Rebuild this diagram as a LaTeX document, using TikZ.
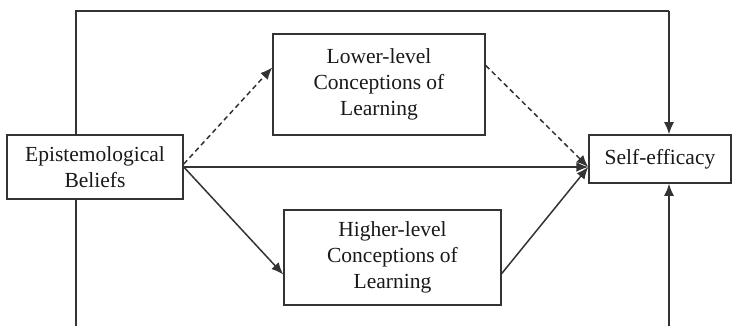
\documentclass[tikz,border=0pt]{standalone}
\usepackage{fontspec}
\setmainfont{Liberation Serif}
\usetikzlibrary{arrows.meta}
\begin{document}
\begin{tikzpicture}[x=1pt,y=-1pt,
  box/.style={draw=black!80,line width=1.5pt,fill=white,align=center,inner sep=0pt,
    font=\fontsize{21.5}{26}\selectfont,text=black!90},
  conn/.style={draw=black!80,line width=1.5pt},
  arr/.style={conn,-{Latex[length=12pt,width=10pt]}},
  darr/.style={arr,dash pattern=on 5pt off 3.5pt}]
\useasboundingbox (0,0) rectangle (733,326);
\node[box,minimum width=176pt,minimum height=64pt] (epi) at (95,167) {Epistemological\\Beliefs};
\node[box,minimum width=212pt,minimum height=101pt] (low) at (379,84.5) {Lower-level\\Conceptions of\\Learning};
\node[box,minimum width=217pt,minimum height=95pt] (high) at (392.5,257.5) {Higher-level\\Conceptions of\\Learning};
\node[box,minimum width=142pt,minimum height=48pt] (self) at (660,159) {Self-efficacy};
\coordinate (tl) at (76,11);
\coordinate (tr) at (669,11);
\coordinate (bl) at (76,326);
\coordinate (br) at (669,326);
\coordinate (tgt) at (self.west |- epi.east);
\draw[conn] (epi.north -| tl) -- (tl) -- (tr);
\draw[arr] (tr) -- (self.north -| tr);
\draw[conn] (epi.south -| bl) -- (bl);
\draw[arr] (br) -- (self.south -| br);
\draw[darr] ([yshift=3pt]epi.east) -- ([yshift=17pt]low.west);
\draw[darr] ([yshift=19pt]low.east) -- (tgt);
\draw[arr] (epi.east) -- (tgt);
\draw[arr] (epi.east) -- ([yshift=-17pt]high.west);
\draw[arr] ([yshift=-16pt]high.east) -- (tgt);
\end{tikzpicture}
\end{document}
